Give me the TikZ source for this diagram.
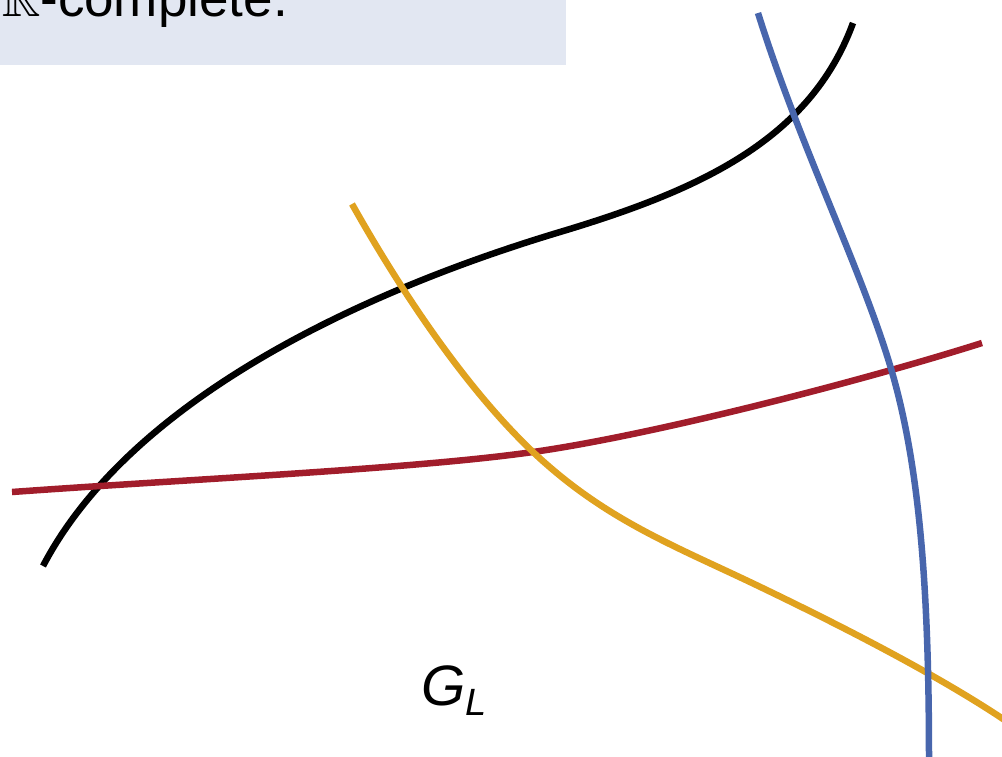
\documentclass[tikz,border=0pt]{standalone}
\usepackage{amssymb}
\usepackage{fontspec}
\setmainfont{Liberation Sans}
\usepackage{xcolor}
\definecolor{boxfill}{HTML}{E2E7F2}
\definecolor{curveblue}{HTML}{4866AD}
\definecolor{curvered}{HTML}{A11D2B}
\definecolor{curveorange}{HTML}{E0A21F}

\begin{document}
\begin{tikzpicture}[
    x=1pt, y=-1pt,
    curve/.style={line width=6.5pt},
    bigtext/.style={inner sep=0pt, font=\fontsize{53}{60}\selectfont}
    ]
    \useasboundingbox (0,0) rectangle (1002,756);
    \clip (0,0) rectangle (1002,756);

    % heading box, cut by the top edge
    \fill[boxfill] (0,-20) rectangle (566,65);
    \node[bigtext, anchor=base east] (title) at (288,16) {$\mathbb{R}$-complete.};

    % the four curves
    \draw[curve, black] (43,566) .. controls (130,400) and (360,292) .. (560,232)
        .. controls (700,190) and (810,140) .. (853,23);
    \draw[curve, curvered] (12,492) .. controls (192,479) and (413,469) .. (533,452)
        .. controls (653,435) and (862,381) .. (982,343);
    \draw[curve, curveorange] (352,204) .. controls (410,307) and (473,395) .. (533,452)
        .. controls (603,518) and (670,544) .. (750,582)
        .. controls (840,625) and (942,677) .. (1012,725);
    \draw[curve, curveblue] (758,13) .. controls (800,147) and (863,272) .. (892,372)
        .. controls (921,472) and (929,600) .. (929,760);

    \node[bigtext, anchor=base west] (gl) at (421,705) {\fontsize{57}{60}\selectfont\textit{G}\raisebox{-10pt}{\fontsize{38}{40}\selectfont\textit{L}}};
  \end{tikzpicture}
\end{document}
